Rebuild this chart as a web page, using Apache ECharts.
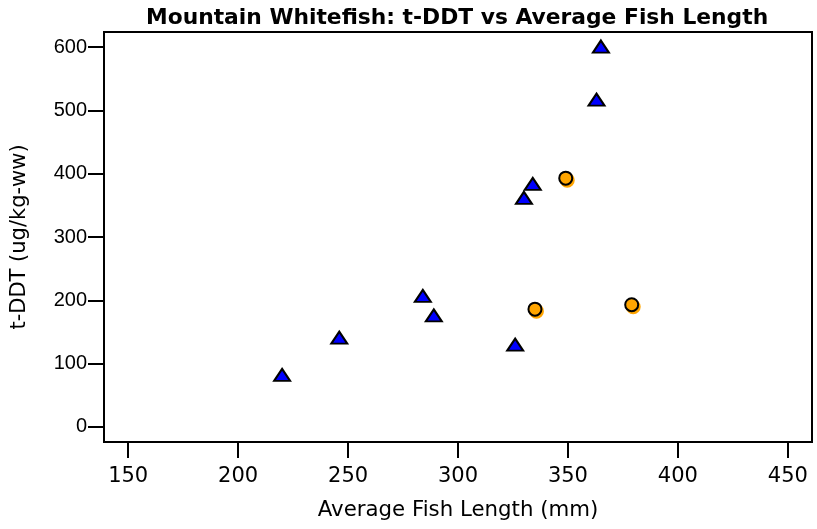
<!DOCTYPE html>
<html>
<head>
<meta charset="utf-8">
<script src="https://cdn.jsdelivr.net/npm/echarts@6/dist/echarts.min.js"></script>
<style>
  html, body { margin: 0; padding: 0; background: #fff; }
  #chart { width: 817px; height: 529px; }
</style>
</head>
<body>
<div id="chart"></div>
<script>
// Labels
const chartTitle = 'Mountain Whitefish: t-DDT vs Average Fish Length';
const xName = 'Average Fish Length (mm)';
const yName = 't-DDT (ug/kg-ww)';

// Tick positions
const xTicks = [150, 200, 250, 300, 350, 400, 450];
const yTicks = [0, 100, 200, 300, 400, 500, 600];

// Blue triangles: average length (mm) and t-DDT (ug/kg-ww)
const triLength = [220, 246, 284, 289, 326, 330, 334, 363, 365];
const triDDT    = [82, 141, 207, 176, 130, 362, 384, 517, 601];

// Orange circles
const circLength = [335, 349, 379];
const circDDT    = [186, 393, 193];

const pairs = (xs, ys) => xs.map((x, i) => [x, ys[i]]);

const axisLine = { show: true, onZero: false, lineStyle: { color: '#000', width: 2 } };
const tick = { show: true, inside: false, length: 16, lineStyle: { color: '#000', width: 2 } };

const chart = echarts.init(document.getElementById('chart'), null, { renderer: 'canvas' });
chart.setOption({
  backgroundColor: '#fff',
  animation: false,
  title: {
    text: chartTitle,
    left: 146,
    top: 7,
    padding: 0,
    textStyle: { fontFamily: 'DejaVu Sans', fontWeight: 'bold', fontSize: 21.8, color: '#000' }
  },
  grid: {
    left: 104, top: 32, right: 5, bottom: 87,
    show: true, borderColor: '#000', borderWidth: 2, backgroundColor: 'transparent'
  },
  xAxis: {
    type: 'value',
    min: 139, max: 461,
    name: xName,
    nameLocation: 'middle',
    nameGap: 58,
    nameTextStyle: { fontFamily: 'DejaVu Sans', fontSize: 21.3, color: '#000' },
    axisLine: axisLine,
    axisTick: Object.assign({ customValues: xTicks }, tick),
    splitLine: { show: false },
    axisLabel: {
      customValues: xTicks,
      margin: 24,
      fontFamily: 'DejaVu Sans', fontSize: 21, color: '#000'
    }
  },
  yAxis: {
    type: 'value',
    min: -24, max: 624,
    name: yName,
    nameLocation: 'middle',
    nameGap: 74,
    nameTextStyle: { fontFamily: 'DejaVu Sans', fontSize: 21, color: '#000' },
    axisLine: axisLine,
    axisTick: Object.assign({ customValues: yTicks }, tick),
    splitLine: { show: false },
    axisLabel: {
      customValues: yTicks,
      margin: 17,
      padding: [9, 0, 0, 0],
      fontFamily: 'Liberation Sans', fontSize: 20, color: '#000'
    }
  },
  series: [
    {
      name: 'Triangles',
      type: 'scatter',
      data: pairs(triLength, triDDT),
      symbol: 'triangle',
      symbolSize: [16, 12],
      itemStyle: { color: '#0000ff', borderColor: '#000', borderWidth: 2, opacity: 1 },
      z: 3
    },
    {
      name: 'Circles',
      type: 'scatter',
      data: pairs(circLength, circDDT),
      symbol: 'circle',
      symbolSize: 13,
      itemStyle: {
        color: '#ffa500', borderColor: '#000', borderWidth: 2, opacity: 1,
        shadowColor: '#ffa500', shadowBlur: 0, shadowOffsetX: 1.5, shadowOffsetY: 2
      },
      z: 2
    }
  ]
});
</script>
</body>
</html>
